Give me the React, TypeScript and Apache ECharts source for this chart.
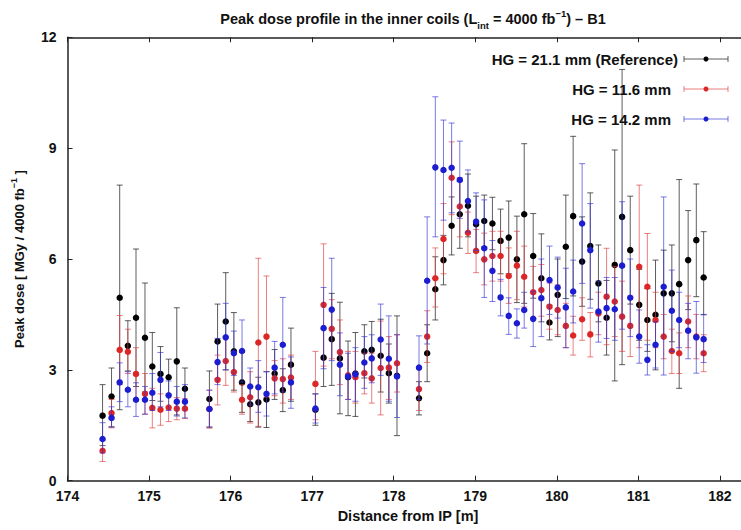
import React, { useEffect, useRef } from "react";
import * as echarts from "echarts";

const FONT = '"Liberation Sans", Arial, Helvetica, sans-serif';

// Positions along the beam line [m]
const xPos = [
  174.43, 174.54, 174.64, 174.74, 174.84, 174.95, 175.04, 175.14, 175.24, 175.34, 175.44,
  175.74, 175.84, 175.94, 176.04, 176.14, 176.24, 176.34, 176.44, 176.54, 176.64, 176.74,
  177.04, 177.14, 177.24, 177.34, 177.44, 177.53, 177.64, 177.73, 177.84, 177.94, 178.04,
  178.31, 178.41, 178.51, 178.61, 178.71, 178.81, 178.91, 179.01, 179.11, 179.21,
  179.31, 179.41, 179.51, 179.6, 179.71, 179.81, 179.91, 180.01, 180.11, 180.2,
  180.31, 180.41, 180.51, 180.61, 180.71, 180.8, 180.9, 181.01, 181.11, 181.21,
  181.31, 181.41, 181.5, 181.61, 181.71, 181.8,
];

// HG = 21.1 mm (Reference)
const blackVal = [
  1.76, 2.28, 4.95, 3.65, 4.41, 3.87, 3.09, 2.89, 2.8, 3.23, 2.49,
  2.21, 3.77, 4.31, 3.5, 2.66, 2.07, 2.12, 2.2, 2.9, 2.45, 3.14,
  1.92, 3.33, 3.83, 3.31, 2.8, 2.9, 3.5, 3.54, 3.38, 2.91, 2.84,
  2.23, 3.45, 5.18, 5.97, 6.9, 7.21, 7.44, 6.94, 7.03, 6.96,
  6.49, 6.58, 5.99, 7.21, 6.08, 5.48, 4.28, 5.03, 6.33, 7.16,
  5.93, 6.35, 5.34, 4.41, 5.84, 7.14, 6.24, 4.76, 4.35, 4.49,
  5.07, 5.07, 5.32, 5.97, 6.51, 5.5,
];
const blackLo = [
  0.95, 1.46, 1.92, 2.97, 2.55, 2.4, 2.17, 2.15, 2.31, 1.78, 1.93,
  1.45, 2.76, 3.0, 2.45, 1.85, 1.6, 1.45, 1.44, 2.2, 1.87, 2.15,
  1.5, 2.55, 2.58, 1.81, 1.76, 1.74, 2.78, 2.77, 2.4, 2.1, 1.22,
  1.78, 2.68, 4.35, 5.3, 6.11, 6.29, 6.6, 6.18, 6.33, 6.25,
  5.6, 5.6, 4.82, 4.8, 4.94, 4.3, 3.81, 3.9, 4.93, 5.0,
  4.72, 4.91, 4.3, 3.4, 2.7, 3.14, 4.78, 3.8, 3.5, 3.0,
  3.9, 3.76, 2.5, 4.63, 4.98, 4.49,
];
const blackHi = [
  2.6, 3.05, 8.0, 4.33, 6.27, 5.35, 4.01, 3.63, 3.29, 4.68, 3.05,
  2.97, 4.78, 5.63, 4.55, 3.47, 2.55, 2.8, 2.95, 3.55, 3.03, 4.13,
  2.35, 4.11, 5.07, 4.83, 3.78, 4.01, 4.22, 4.31, 4.37, 3.7, 4.46,
  2.68, 4.22, 6.06, 6.64, 7.68, 8.1, 8.3, 7.7, 7.73, 7.67,
  7.35, 7.57, 7.16, 9.12, 7.23, 6.68, 4.75, 6.0, 7.73, 9.32,
  7.14, 7.79, 6.38, 5.42, 8.95, 11.13, 7.7, 5.72, 5.2, 5.97,
  6.24, 6.38, 8.15, 7.31, 8.03, 6.74,
];

// HG = 11.6 mm
const redVal = [
  0.81, 1.83, 3.54, 3.49, 2.89, 2.35, 1.97, 1.92, 1.98, 1.95, 1.95,
  1.94, 2.73, 3.24, 2.94, 2.19, 2.26, 3.74, 3.9, 2.77, 2.75, 2.79,
  2.62, 4.76, 4.11, 3.48, 2.85, 2.8, 2.91, 2.77, 3.05, 3.06, 3.18,
  2.48, 3.9, 5.48, 6.54, 8.2, 7.42, 6.71, 6.22, 5.99, 6.08,
  6.08, 5.54, 5.82, 5.52, 5.1, 5.16, 4.71, 4.62, 4.19, 3.93,
  4.37, 3.96, 4.53, 4.98, 4.85, 4.44, 4.19, 5.79, 5.25, 4.35,
  3.9, 3.51, 3.45, 4.31, 3.9, 3.45,
];
const redLo = [
  0.52, 1.43, 2.6, 2.9, 2.2, 1.8, 1.43, 1.5, 1.6, 1.65, 1.68,
  1.42, 2.05, 2.58, 2.4, 1.8, 1.56, 1.47, 2.26, 2.3, 2.1, 2.2,
  1.65, 3.1, 3.3, 2.6, 2.2, 2.1, 2.35, 2.1, 1.78, 2.2, 2.4,
  1.9, 3.2, 4.7, 5.6, 7.2, 6.6, 6.15, 5.63, 5.3, 5.4,
  5.4, 4.8, 4.9, 4.7, 4.4, 4.45, 4.1, 3.95, 3.6, 3.4,
  3.8, 3.35, 3.95, 3.68, 3.9, 3.5, 3.36, 3.6, 3.8, 3.6,
  3.3, 2.9, 2.9, 3.6, 3.3, 2.95,
];
const redHi = [
  1.1, 2.2, 4.47, 4.1, 3.6, 2.9, 2.5, 2.35, 2.35, 2.25, 2.22,
  2.45, 3.4, 3.9, 3.5, 2.6, 2.95, 6.02, 5.54, 3.25, 3.3, 3.4,
  3.5, 6.41, 4.9, 4.35, 3.5, 3.5, 3.45, 3.45, 4.32, 3.9, 3.95,
  3.05, 4.6, 6.3, 7.5, 9.17, 8.2, 7.27, 6.8, 6.7, 6.75,
  6.75, 6.3, 6.75, 6.35, 5.8, 5.85, 5.35, 5.3, 4.8, 4.45,
  4.95, 4.55, 5.1, 6.29, 5.8, 5.4, 5.0, 8.0, 6.69, 5.1,
  4.5, 4.1, 4.0, 5.0, 4.5, 3.95,
];

// HG = 14.2 mm
const blueVal = [
  1.13, 1.7, 2.66, 2.46, 2.19, 2.19, 2.38, 2.73, 2.31, 2.14, 2.14,
  1.94, 3.21, 3.88, 3.45, 3.51, 2.55, 2.53, 2.35, 3.06, 3.68, 2.66,
  1.95, 4.13, 4.63, 3.14, 2.82, 2.88, 3.2, 3.31, 3.82, 3.3, 2.82,
  3.06, 5.41, 8.48, 8.41, 8.47, 8.14, 7.57, 7.01, 6.29, 5.68,
  4.96, 4.46, 4.26, 4.62, 4.38, 4.94, 5.43, 5.23, 4.69, 5.12,
  6.96, 6.24, 4.58, 4.67, 4.64, 5.82, 4.95, 3.9, 3.27, 3.68,
  5.25, 4.6, 4.35, 4.06, 3.88, 3.83,
];
const blueLo = [
  0.75, 1.45, 2.14, 2.0, 1.74, 1.8, 1.9, 2.0, 1.9, 1.75, 1.7,
  1.45, 2.6, 3.0, 2.85, 2.67, 2.05, 1.85, 1.75, 2.35, 2.4, 1.96,
  1.56, 3.03, 3.25, 2.3, 2.2, 2.15, 2.5, 2.65, 2.85, 2.15, 1.71,
  2.2, 3.7, 6.6, 7.05, 7.25, 7.1, 6.73, 6.23, 4.96, 4.85,
  4.46, 3.96, 3.86, 4.13, 3.63, 3.9, 4.5, 4.4, 3.6, 4.27,
  5.34, 4.67, 3.75, 3.85, 3.8, 4.1, 3.9, 3.18, 2.86, 3.05,
  2.86, 3.5, 3.6, 3.3, 2.91, 3.2,
];
const blueHi = [
  1.57, 2.0, 3.19, 2.95, 2.65, 2.55, 2.9, 3.47, 2.7, 2.55, 2.6,
  2.45, 3.85, 4.8, 4.05, 4.35, 3.05, 3.25, 2.95, 3.77, 4.96, 3.35,
  2.35, 5.23, 6.02, 4.0, 3.45, 3.6, 3.9, 3.95, 4.78, 4.46, 3.95,
  3.92, 7.14, 10.39, 9.76, 9.68, 9.19, 8.41, 7.79, 7.6, 6.5,
  5.45, 4.95, 4.65, 5.1, 5.13, 6.0, 6.35, 6.05, 5.75, 5.97,
  8.58, 7.5, 5.4, 5.5, 5.5, 7.55, 6.0, 4.62, 3.68, 4.3,
  7.68, 5.7, 5.1, 4.8, 4.85, 4.5,
];

const legendLabels = ["HG = 21.1 mm (Reference)", "HG = 11.6 mm", "HG = 14.2 mm"];
const yTicks = { min: 0, max: 12, step: 3 };
const xRange = { min: 174, max: 182.35, step: 1 };

const seriesDefs = [
  { name: legendLabels[0], val: blackVal, lo: blackLo, hi: blackHi, point: "#000000", bar: "rgba(40,40,40,0.75)" },
  { name: legendLabels[1], val: redVal, lo: redLo, hi: redHi, point: "#dd2626", bar: "rgba(225,60,60,0.65)" },
  { name: legendLabels[2], val: blueVal, lo: blueLo, hi: blueHi, point: "#1c1cd0", bar: "rgba(50,50,215,0.65)" },
];

export default function App() {
  const ref = useRef<HTMLDivElement>(null);

  useEffect(() => {
    if (!ref.current) return;
    const chart = echarts.init(ref.current, null, { renderer: "svg" });

    const series: any[] = [];
    seriesDefs.forEach((s, k) => {
      series.push({
        type: "custom",
        name: s.name + " err",
        xAxisIndex: 0,
        yAxisIndex: 0,
        z: 2 + k * 2,
        data: xPos.map((x, i) => [x, s.lo[i], s.hi[i]]),
        encode: { x: 0, y: [1, 2] },
        renderItem: (params: any, api: any) => {
          const x = api.value(0);
          const a = api.coord([x, api.value(1)]);
          const b = api.coord([x, api.value(2)]);
          const w = 3;
          const style = { stroke: s.bar, lineWidth: 1, fill: null };
          return {
            type: "group",
            children: [
              { type: "line", shape: { x1: a[0], y1: a[1], x2: b[0], y2: b[1] }, style },
              { type: "line", shape: { x1: a[0] - w, y1: a[1], x2: a[0] + w, y2: a[1] }, style },
              { type: "line", shape: { x1: b[0] - w, y1: b[1], x2: b[0] + w, y2: b[1] }, style },
            ],
          };
        },
      });
      series.push({
        type: "scatter",
        name: s.name,
        xAxisIndex: 0,
        yAxisIndex: 0,
        z: 3 + k * 2,
        symbol: "circle",
        symbolSize: 6.5,
        itemStyle: { color: s.point, opacity: 1 },
        data: xPos.map((x, i) => [x, s.val[i]]),
      });
    });

    const legendY = [59, 89, 119];
    const legendTextRight = [678, 671, 671];
    const graphic: any[] = [];
    seriesDefs.forEach((s, k) => {
      const y = legendY[k];
      graphic.push({
        type: "text",
        x: legendTextRight[k],
        y,
        z: 100,
        style: {
          text: s.name,
          fill: "#111",
          font: `bold 15px ${FONT}`,
          align: "right",
          verticalAlign: "middle",
        },
      });
      const ls = { stroke: s.bar, lineWidth: 1 };
      graphic.push({ type: "line", z: 100, shape: { x1: 684, y1: y, x2: 728, y2: y }, style: ls });
      graphic.push({ type: "line", z: 100, shape: { x1: 684, y1: y - 3, x2: 684, y2: y + 3 }, style: ls });
      graphic.push({ type: "line", z: 100, shape: { x1: 728, y1: y - 3, x2: 728, y2: y + 3 }, style: ls });
      graphic.push({ type: "circle", z: 101, shape: { cx: 706, cy: y, r: 2.5 }, style: { fill: s.point } });
    });

    const axisLine = { show: true, onZero: false, lineStyle: { color: "#222", width: 1.5 } };
    const axisTick = { show: true, inside: true, length: 5, lineStyle: { color: "#222", width: 1 } };
    const labelStyle = { fontFamily: FONT, fontWeight: "bold", fontSize: 14, color: "#111" };

    chart.setOption({
      animation: false,
      backgroundColor: "#ffffff",
      title: {
        text: "{a|Peak dose profile in the inner coils (L}{sub|int}{a| = 4000 fb}{sup|−1}{a|) – B1}",
        left: 408,
        top: 3,
        textAlign: "center",
        textStyle: {
          rich: {
            a: { fontFamily: FONT, fontWeight: "bold", fontSize: 14.5, color: "#111", lineHeight: 22 },
            sub: { fontFamily: FONT, fontWeight: "bold", fontSize: 9.5, color: "#111", lineHeight: 12, verticalAlign: "bottom" },
            sup: { fontFamily: FONT, fontWeight: "bold", fontSize: 9.5, color: "#111", lineHeight: 12, verticalAlign: "top" },
          },
        },
      },
      grid: { left: 67.5, top: 37.3, width: 681, height: 443.4, containLabel: false, outerBoundsMode: "none" },
      xAxis: [
        {
          type: "value",
          position: "bottom",
          min: xRange.min,
          max: xRange.max,
          interval: xRange.step,
          axisLine,
          axisTick,
          splitLine: { show: false },
          axisLabel: { ...labelStyle, margin: 8, showMaxLabel: false },
          name: "Distance from IP [m]",
          nameLocation: "middle",
          nameGap: 28,
          nameTextStyle: { fontFamily: FONT, fontWeight: "bold", fontSize: 14.5, color: "#111" },
        },
        {
          type: "value",
          position: "top",
          min: xRange.min,
          max: xRange.max,
          interval: xRange.step,
          axisLine,
          axisTick,
          splitLine: { show: false },
          axisLabel: { show: false },
        },
      ],
      yAxis: [
        {
          type: "value",
          position: "left",
          min: yTicks.min,
          max: yTicks.max,
          interval: yTicks.step,
          axisLine,
          axisTick,
          splitLine: { show: false },
          axisLabel: { ...labelStyle, margin: 11 },
          name: "{a|Peak dose [ MGy / 4000 fb}{sup|−1}{a| ]}",
          nameLocation: "middle",
          nameGap: 38,
          nameTextStyle: {
            rich: {
              a: { fontFamily: FONT, fontWeight: "bold", fontSize: 13, color: "#111", lineHeight: 20 },
              sup: { fontFamily: FONT, fontWeight: "bold", fontSize: 9, color: "#111", lineHeight: 11, verticalAlign: "top" },
            },
          },
        },
        {
          type: "value",
          position: "right",
          min: yTicks.min,
          max: yTicks.max,
          interval: yTicks.step,
          axisLine,
          axisTick,
          splitLine: { show: false },
          axisLabel: { show: false },
        },
      ],
      graphic,
      series,
    });

    return () => {
      chart.dispose();
    };
  }, []);

  return (
    <div
      ref={ref}
      style={{ position: "absolute", left: 0, top: 0, width: 741, height: 530, background: "#fff" }}
    />
  );
}
